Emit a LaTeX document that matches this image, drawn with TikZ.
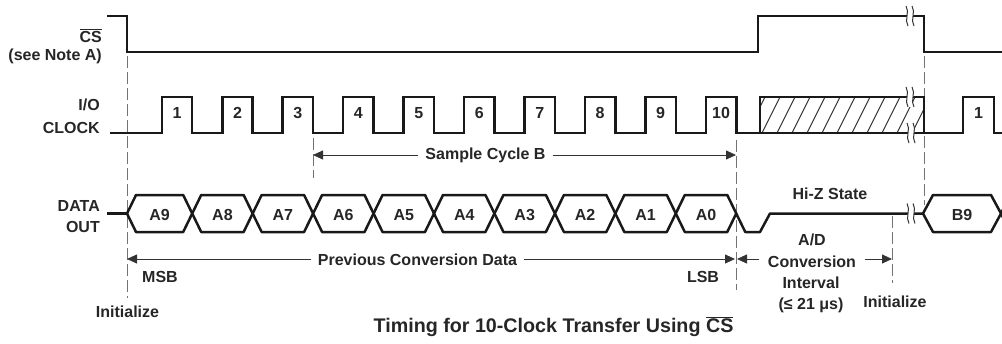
\documentclass[tikz,border=0pt]{standalone}
\usepackage{fontspec}
\setmainfont{Liberation Sans}
\usetikzlibrary{arrows.meta}
\newcommand\lblfont{\bfseries\fontsize{16}{18}\selectfont}
\newcommand\ttlfont{\bfseries\fontsize{19.7}{22}\selectfont}
\tikzset{
  sig/.style={line width=2.5pt, line join=miter, black!90},
  lbl/.style={font=\lblfont, inner sep=0pt, text=black!85},
  guide/.style={black!55, line width=0.9pt, dash pattern=on 12pt off 4pt},
  dim/.style={line width=0.8pt, black!80},
  tip/.style={-{Triangle[length=10pt,width=9pt]}},
  brk/.pic={
    \fill[white] (-5,-10) .. controls (-1,-4) and (-7,4) .. (-3,10) -- (3,10) .. controls (-1,4) and (5,-4) .. (1,-10) -- cycle;
    \draw[line width=1pt, black!80] (-5,-10) .. controls (-1,-4) and (-7,4) .. (-3,10);
    \draw[line width=1pt, black!80] (1,-10) .. controls (5,-4) and (-1,4) .. (3,10);
  }
}
\begin{document}
\begin{tikzpicture}[x=1pt,y=-1pt]
\useasboundingbox (0,0) rectangle (1002,343);
\clip (0,0) rectangle (1002,343);

% ---------- guide (dashed) lines ----------
\coordinate (g1a) at (127,56);  \coordinate (g1b) at (127,298);
\coordinate (g2a) at (313,138); \coordinate (g2b) at (313,178);
\coordinate (g3a) at (736,140); \coordinate (g3b) at (736,290);
\coordinate (g4a) at (924,56);  \coordinate (g4b) at (924,205);
\coordinate (g5a) at (892,216); \coordinate (g5b) at (892,283);
\draw[guide] (g1a) -- (g1b);
\draw[guide] (g2a) -- (g2b);
\draw[guide] (g3a) -- (g3b);
\draw[guide] (g4a) -- (g4b);
\draw[guide] (g5a) -- (g5b);

% ---------- CS ----------
\draw[sig] (107,16) -- (127,16) -- (127,52) -- (758,52) -- (758,16) -- (924,16) -- (924,52) -- (1002,52);

% ---------- I/O clock ----------
\draw[sig] (110,133)
  \foreach \k in {0,...,9} {
    -- ({161.8+60.45*\k},133) -- ({161.8+60.45*\k},97)
    -- ({192.2+60.45*\k},97) -- ({192.2+60.45*\k},133)
  } -- (760,133);
\begin{scope}
  \clip (760,97) rectangle (924,133);
  \foreach \x in {747,762,...,935} \draw[line width=1pt, black!80] (\x,133) -- (\x+18,97);
\end{scope}
\draw[sig] (760,97) rectangle (924,133);
\draw[sig] (924,133) -- (963,133) -- (963,97) -- (994,97) -- (994,133) -- (1002,133);
\foreach \k/\n in {0/1,1/2,2/3,3/4,4/5,5/6,6/7,7/8,8/9,9/10}
  \node[lbl, anchor=base] (ck\n) at ({177+60.45*\k},118) {\n};
\node[lbl, anchor=base] (ckB1) at (978.5,118) {1};

% ---------- DATA OUT ----------
\draw[sig] (107,213.5) -- (127,213.5);
\foreach \l/\r/\n in {127/192.2/A9, 192.2/252.65/A8, 252.65/313.1/A7, 313.1/373.55/A6,
    373.55/434/A5, 434/494.45/A4, 494.45/554.9/A3, 554.9/615.35/A2, 615.35/675.8/A1} {
  \draw[sig, line join=bevel] (\l,213.5) -- (\l+9,195) -- (\r-9,195) -- (\r,213.5) -- (\r-9,232) -- (\l+9,232) -- cycle;
  \node[lbl, anchor=base] (d\n) at ({(\l+\r)/2},220) {\n};
}
\draw[sig, line join=bevel] (736.25,213.5) -- (727.25,232) -- (684.8,232) -- (675.8,213.5) -- (684.8,195) -- (727.25,195)
  -- (745.25,232) -- (760,232) -- (770,213.5) -- (923,213.5);
\node[lbl, anchor=base] (dA0) at (706,220) {A0};
\draw[sig, line join=bevel] (1010,195) -- (1001,213.5) -- (991,195) -- (933,195) -- (923,213.5) -- (933,232) -- (991,232) -- (1001,213.5) -- (1010,232);
\node[lbl, anchor=base] (dB9) at (962,220) {B9};

% ---------- break marks ----------
\pic at (911,16) {brk};
\pic at (911,97) {brk};
\pic at (912,133) {brk};
\pic at (912,213.5) {brk};

% ---------- signal names ----------
\node[lbl, anchor=base east] (csn) at (102,42) {$\overline{\mbox{CS}}$};
\node[lbl, anchor=base east] (note) at (102,60) {(see Note A)};
\node[lbl, anchor=base east] (io) at (100,110) {I/O};
\node[lbl, anchor=base east] (clk) at (100,133) {CLOCK};
\node[lbl, anchor=base east] (data) at (100,211) {DATA};
\node[lbl, anchor=base east] (out) at (100,232) {OUT};

% ---------- Sample Cycle B ----------
\node[lbl, anchor=base, inner xsep=7pt] (samp) at (485.5,159) {Sample Cycle B};
\coordinate (sL) at (313,155); \coordinate (sR) at (736,155);
\draw[dim, tip] (samp.west |- sL) -- (sL);
\draw[dim, tip] (samp.east |- sR) -- (sR);

% ---------- Previous Conversion Data ----------
\node[lbl, anchor=base, inner xsep=7pt] (prev) at (417.5,265) {Previous Conversion Data};
\coordinate (pL) at (127,259); \coordinate (pR) at (735,259);
\draw[dim, tip] (prev.west |- pL) -- (pL);
\draw[dim, tip] (prev.east |- pR) -- (pR);
\node[lbl, anchor=base] (msb) at (160,282) {MSB};
\node[lbl, anchor=base] (lsb) at (703,282) {LSB};
\node[lbl, anchor=base] (init1) at (127.5,317) {Initialize};

% ---------- Conversion interval ----------
\node[lbl, anchor=base] (hiz) at (830,199) {Hi-Z State};
\node[lbl, anchor=base] (ad) at (812,245) {A/D};
\node[lbl, anchor=base, inner xsep=9pt] (conv) at (812,267) {Conversion};
\node[lbl, anchor=base] (intv) at (811,288) {Interval};
\node[lbl, anchor=base] (lim) at (811,309) {(≤ 21 μs)};
\coordinate (cL) at (737,259); \coordinate (cR) at (892,259);
\draw[dim, tip] (conv.west |- cL) -- (cL);
\draw[dim, tip] (conv.east |- cR) -- (cR);
\node[lbl, anchor=base] (init2) at (895,307) {Initialize};

% ---------- title ----------
\node[font=\ttlfont, inner sep=0pt, text=black!85, anchor=base] (title) at (553.5,332) {Timing for 10-Clock Transfer Using $\overline{\mbox{CS}}$};
\end{tikzpicture}
\end{document}
